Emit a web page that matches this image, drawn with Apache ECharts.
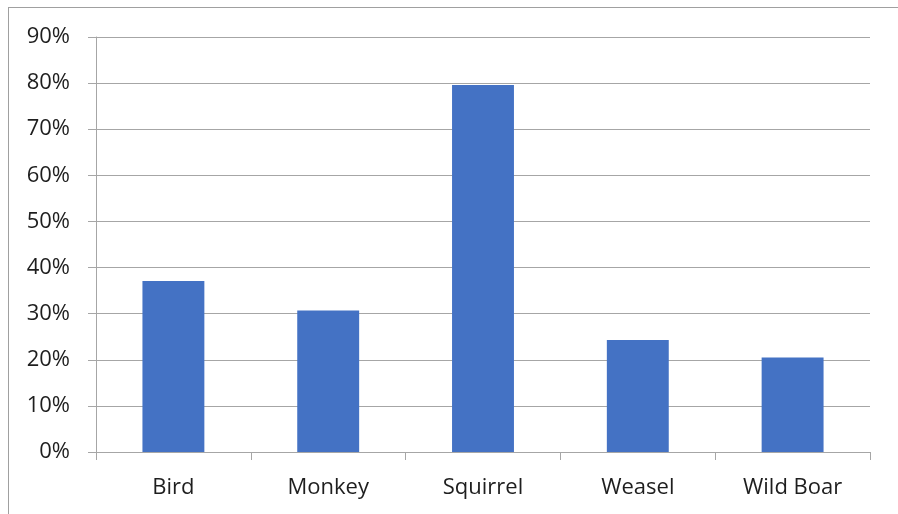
<!DOCTYPE html>
<html>
<head>
<meta charset="utf-8">
<script src="https://cdn.jsdelivr.net/npm/echarts@6/dist/echarts.min.js"></script>
<style>
  html, body { margin: 0; padding: 0; background: #fff; }
  #chart { width: 898px; height: 514px; }
</style>
</head>
<body>
<div id="chart"></div>
<script>
// Share of sightings by animal (percent)
const categories = ['Bird', 'Monkey', 'Squirrel', 'Weasel', 'Wild Boar'];
const values = [37.1, 30.7, 79.6, 24.3, 20.5];
const yTicks = [0, 10, 20, 30, 40, 50, 60, 70, 80, 90];

const chart = echarts.init(document.getElementById('chart'), null, { renderer: 'canvas' });
const fontFamily = '"Open Sans", "Liberation Sans", sans-serif';

chart.setOption({
  animation: false,
  backgroundColor: '#ffffff',
  graphic: [
    { type: 'line', shape: { x1: 8, y1: 7.5, x2: 898, y2: 7.5 }, style: { stroke: '#a0a0a0', lineWidth: 1 } },
    { type: 'line', shape: { x1: 8.5, y1: 7, x2: 8.5, y2: 514 }, style: { stroke: '#a0a0a0', lineWidth: 1 } }
  ],
  grid: { left: 96, right: 28, top: 37, bottom: 62, containLabel: false },
  xAxis: {
    type: 'category',
    data: categories,
    axisLine: { show: true, lineStyle: { color: '#a6a6a6', width: 1 } },
    axisTick: { show: true, length: 8, lineStyle: { color: '#a6a6a6' } },
    axisLabel: { color: '#1e1e1e', fontSize: 22, fontFamily: fontFamily, margin: 25 }
  },
  yAxis: {
    type: 'value',
    min: yTicks[0],
    max: yTicks[yTicks.length - 1],
    interval: 10,
    axisLine: { show: true, lineStyle: { color: '#a6a6a6', width: 1 } },
    axisTick: { show: true, length: 8, lineStyle: { color: '#a6a6a6' } },
    splitLine: { show: true, lineStyle: { color: '#a6a6a6', width: 1 } },
    axisLabel: { color: '#1e1e1e', fontSize: 22, fontFamily: fontFamily, margin: 26, formatter: '{value}%' }
  },
  series: [{
    type: 'bar',
    data: values,
    barWidth: '40%',
    itemStyle: { color: '#4472c4' }
  }]
});
</script>
</body>
</html>
